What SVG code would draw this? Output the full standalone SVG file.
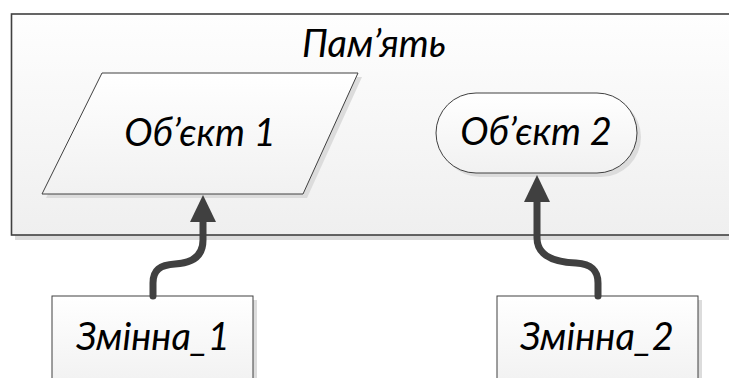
<svg xmlns="http://www.w3.org/2000/svg" width="729" height="378" viewBox="0 0 729 378">
  <defs>
    <linearGradient id="fillMem" x1="0" y1="0" x2="0" y2="1">
      <stop offset="0" stop-color="#fefefe"/>
      <stop offset="1" stop-color="#efefef"/>
    </linearGradient>
    <linearGradient id="fillShape" x1="0" y1="0" x2="0" y2="1">
      <stop offset="0" stop-color="#ffffff"/>
      <stop offset="1" stop-color="#f1f1f1"/>
    </linearGradient>
  </defs>
  <style>
    .shadow { fill: #dcdcdc; }
    .box { stroke: #404040; stroke-width: 1; }
    .mem { fill: url(#fillMem); stroke: #404040; stroke-width: 1.6; }
    .lbl { font-family: Lato, "Open Sans", "Liberation Sans", sans-serif; font-style: italic; font-size: 38px; fill: #000; text-anchor: middle; }
    .link { fill: none; stroke: #404040; stroke-width: 7; stroke-linecap: round; }
    .head { fill: #404040; }
  </style>

  <!-- memory area -->
  <g id="memory">
    <rect class="shadow" x="15" y="18" width="720" height="222"/>
    <rect class="mem" x="11.5" y="14" width="730" height="221"/>
    <text class="lbl" x="374" y="57">Пам’ять</text>
  </g>

  <!-- object 1: parallelogram -->
  <g id="object1">
    <polygon class="shadow" points="106,77 362,77 307,198 46,198"/>
    <polygon class="box" fill="url(#fillShape)" points="102,73 358,73 303,194 42,194"/>
    <text class="lbl" x="200" y="146">Об’єкт 1</text>
  </g>

  <!-- object 2: terminator -->
  <g id="object2">
    <rect class="shadow" x="440" y="97" width="201" height="80" rx="40"/>
    <rect class="box" fill="url(#fillShape)" x="436" y="93" width="201" height="80" rx="40"/>
    <text class="lbl" x="536" y="145">Об’єкт 2</text>
  </g>

  <!-- variable 1 -->
  <g id="var1">
    <rect class="shadow" x="56" y="300" width="201" height="90"/>
    <rect class="box" fill="url(#fillShape)" x="52" y="296" width="201" height="90"/>
    <text class="lbl" x="153" y="350">Змінна_1</text>
  </g>

  <!-- variable 2 -->
  <g id="var2">
    <rect class="shadow" x="501" y="300" width="201" height="90"/>
    <rect class="box" fill="url(#fillShape)" x="497" y="296" width="201" height="90"/>
    <text class="lbl" x="597" y="350">Змінна_2</text>
  </g>

  <!-- references from variables to objects -->
  <g id="connectors">
    <path class="link" d="M153,296 L153,283 C153,270 160,265 175,264 C195,263 203,254 203,240 L203,218"/>
    <path class="link" d="M598,296 L598,283 C598,270 591,264 576,263 C548,262 537,252 537,238 L537,198"/>
    <path class="head" d="M203,195 L216,222 L190,222 Z"/>
    <path class="head" d="M537,175 L550,202 L524,202 Z"/>
  </g>
</svg>
